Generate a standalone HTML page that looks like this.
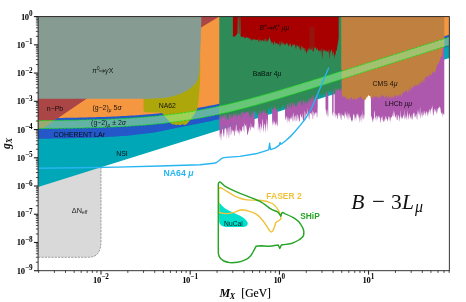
<!DOCTYPE html>
<html><head><meta charset="utf-8"><title>B-3L_mu constraints</title>
<style>
html,body{margin:0;padding:0;background:#fff;}
body{width:466px;height:302px;overflow:hidden;font-family:"Liberation Sans",sans-serif;}
svg{display:block;will-change:transform;}
text{white-space:pre;}
</style></head><body>
<svg width="466" height="302" viewBox="0 0 466 302">
<defs><clipPath id="c"><rect x="38.10" y="16.60" width="411.25" height="254.10"/></clipPath></defs>
<rect width="466" height="302" fill="#fff"/>
<g clip-path="url(#c)">
<path d="M36.1,120.0 L101.0,120.0 L101.0,240.5 C101.0,251.5 97.5,257.3 88.5,257.3 L36.1,257.3 L36.1,120.0 Z" fill="#d9d9d9" stroke="#888888" stroke-width="0.8" stroke-dasharray="2.1,1.2"/>
<polygon points="38.10,187.00 449.35,58.07 449.35,16.60 38.10,16.60" fill="#00a7b7" />
<polygon points="38.00,138.90 41.00,138.84 44.00,138.79 47.00,138.73 50.00,138.68 53.00,138.62 56.00,138.56 59.00,138.51 62.00,138.45 65.00,138.39 68.00,138.34 71.00,138.27 74.00,138.18 77.00,138.09 80.00,138.00 83.00,137.91 86.00,137.82 89.00,137.73 92.00,137.64 95.00,137.55 98.00,137.46 101.00,137.34 104.00,137.16 107.00,136.99 110.00,136.81 113.00,136.63 116.00,136.45 119.00,136.27 122.00,136.10 125.00,135.92 128.00,135.68 131.00,135.33 134.00,134.97 137.00,134.61 140.00,134.26 143.00,133.90 146.00,133.55 149.00,133.19 152.00,132.84 155.00,132.40 158.00,131.78 161.00,131.17 164.00,130.56 167.00,129.95 170.00,129.34 173.00,128.73 176.00,128.12 179.00,127.51 182.00,126.90 185.00,126.29 188.00,125.69 191.00,125.08 194.00,124.48 197.00,123.88 200.00,123.27 203.00,122.67 206.00,122.06 209.00,121.42 212.00,120.75 215.00,120.08 218.00,119.41 221.00,118.59 224.00,117.64 227.00,116.69 230.00,115.73 233.00,114.78 236.00,113.83 239.00,112.87 242.00,111.92 245.00,110.97 248.00,110.02 251.00,109.06 254.00,108.11 257.00,107.16 260.00,106.20 263.00,105.25 266.00,104.30 269.00,103.35 272.00,102.39 275.00,101.44 278.00,100.49 281.00,99.53 284.00,98.58 287.00,97.63 290.00,96.68 293.00,95.72 296.00,94.77 299.00,93.82 302.00,92.87 305.00,91.92 308.00,90.97 311.00,90.02 314.00,89.07 317.00,88.12 320.00,87.17 323.00,86.22 326.00,85.27 329.00,84.32 332.00,83.38 335.00,82.43 338.00,81.48 341.00,80.53 344.00,79.58 347.00,78.63 350.00,77.68 353.00,76.73 356.00,75.78 359.00,74.83 362.00,73.88 365.00,72.93 368.00,71.99 371.00,71.04 374.00,70.09 377.00,69.14 380.00,68.19 383.00,67.24 386.00,66.29 389.00,65.34 392.00,64.39 395.00,63.44 398.00,62.49 401.00,61.54 404.00,60.60 407.00,59.65 410.00,58.70 413.00,57.75 416.00,56.80 419.00,55.85 422.00,54.90 425.00,53.95 428.00,53.00 431.00,52.05 434.00,51.10 437.00,50.15 440.00,49.21 443.00,48.26 446.00,47.31 449.00,46.36 449.50,46.20 449.50,10.00 38.00,10.00" fill="#2458c8" />
<polygon points="219.40,20.00 219.40,127.61 219.82,138.20 220.24,132.39 220.66,137.03 221.08,141.54 221.50,133.81 221.92,133.16 222.34,124.81 222.76,129.71 223.18,132.98 223.60,135.76 224.02,137.76 224.44,131.09 224.86,127.29 225.28,129.77 225.70,125.02 226.12,128.79 226.54,131.87 226.96,139.25 227.38,126.87 227.80,133.85 228.22,139.26 228.64,128.82 229.06,124.43 229.48,138.29 229.90,127.70 230.32,122.03 230.74,135.57 231.16,134.30 231.58,131.48 232.00,128.32 232.42,131.68 232.84,130.16 233.26,131.42 233.68,130.01 234.10,136.23 234.52,135.16 234.94,129.31 235.36,132.39 235.78,128.82 236.20,121.57 236.62,129.58 237.04,133.22 237.46,129.69 237.88,130.65 238.30,133.81 238.72,130.02 239.14,136.13 239.56,127.57 239.98,133.79 240.40,129.94 240.82,129.93 241.24,132.26 241.66,130.90 242.08,129.66 242.50,126.13 242.92,126.63 243.34,125.56 243.76,130.63 244.18,132.50 244.60,122.87 245.02,124.79 245.44,126.21 245.86,125.18 246.28,130.96 246.70,122.92 247.12,135.03 247.54,134.68 247.96,133.46 248.38,129.36 248.80,133.19 249.22,126.30 249.64,127.65 250.06,128.99 250.48,131.72 250.90,122.15 251.32,126.09 251.74,127.65 252.16,127.43 252.58,127.17 253.00,126.09 253.42,128.01 253.84,128.24 254.26,123.40 254.60,131.39 254.60,20.00" fill="#ad58ad" />
<polygon points="257.90,20.00 257.90,131.57 258.32,129.05 258.74,120.37 259.16,129.43 259.58,126.29 260.00,134.58 260.42,124.03 260.84,123.50 261.26,130.96 261.68,126.45 262.10,126.31 262.52,120.52 262.94,118.84 263.36,132.89 263.78,129.55 264.20,125.74 264.62,123.17 265.04,124.78 265.46,133.80 265.88,126.43 266.30,123.83 266.72,117.95 267.14,132.66 267.56,118.08 267.98,130.90 268.00,123.44 268.00,20.00" fill="#ad58ad" />
<polygon points="272.10,20.00 272.10,126.10 272.52,120.60 272.94,126.26 273.36,119.09 273.78,124.78 274.20,120.93 274.62,122.03 275.04,127.05 275.46,122.97 275.88,124.29 276.30,124.94 276.72,120.19 277.14,125.66 277.56,126.28 277.80,120.27 277.80,20.00" fill="#ad58ad" />
<polygon points="285.00,20.00 285.00,114.78 285.42,119.71 285.84,119.75 286.26,115.64 286.68,117.61 287.10,123.74 287.52,116.15 287.94,120.31 288.36,121.85 288.78,116.22 289.20,123.67 289.62,119.06 290.04,117.59 290.46,120.01 290.88,116.67 291.30,119.87 291.72,115.11 292.14,122.38 292.56,117.76 292.98,114.70 293.40,112.32 293.82,121.72 294.24,120.59 294.66,116.91 295.08,115.53 295.50,115.73 295.92,122.45 296.34,113.38 296.76,121.20 297.18,120.76 297.60,114.16 298.02,115.24 298.44,117.38 298.86,119.88 299.28,121.53 299.70,121.95 300.12,114.43 300.54,113.65 300.96,116.25 301.38,116.90 301.80,117.88 302.22,112.83 302.64,117.66 303.06,120.65 303.48,120.52 303.90,120.79 304.32,120.49 304.74,110.44 305.16,112.13 305.58,120.24 306.00,113.65 306.42,114.02 306.84,115.24 307.26,107.40 307.68,116.59 308.10,114.10 308.52,114.25 308.94,119.65 309.36,118.67 309.78,112.17 310.20,112.97 310.62,113.97 311.04,112.61 311.46,115.68 311.88,112.57 312.30,109.99 312.72,119.48 313.14,118.45 313.56,111.48 313.98,112.19 314.40,113.88 314.82,116.09 315.24,113.54 315.66,112.34 316.08,113.07 316.50,111.87 316.92,118.08 317.34,116.28 317.70,106.51 317.70,20.00" fill="#ad58ad" />
<polygon points="325.50,20.00 325.50,107.77 325.92,111.00 326.34,116.36 326.76,111.14 327.18,108.93 327.60,114.68 328.02,117.58 328.30,114.94 328.30,20.00" fill="#ad58ad" />
<polygon points="332.10,20.00 332.10,112.18 332.52,116.55 332.94,112.22 333.36,112.20 333.60,118.41 333.60,20.00" fill="#ad58ad" />
<polygon points="334.60,20.00 334.60,116.23 335.02,113.06 335.44,118.61 335.86,112.41 336.28,114.95 336.70,116.49 337.12,113.65 337.54,119.79 337.96,117.85 338.38,113.07 338.80,113.02 339.22,112.45 339.64,116.75 340.06,113.33 340.48,116.54 340.90,119.52 341.32,120.24 341.74,112.89 342.16,114.66 342.58,115.48 343.00,115.19 343.42,115.56 343.84,115.99 344.26,119.22 344.68,114.57 345.10,110.38 345.52,115.43 345.94,113.32 346.36,118.03 346.78,115.61 347.20,110.94 347.62,120.40 348.04,114.07 348.46,114.20 348.88,120.09 349.30,117.52 349.72,112.53 350.14,118.40 350.56,115.82 350.98,120.34 351.40,119.91 351.82,122.17 352.24,119.39 352.66,122.13 353.08,114.83 353.50,115.40 353.92,112.95 354.34,121.68 354.76,113.71 355.18,117.84 355.60,117.38 356.02,121.15 356.44,116.07 356.86,113.70 357.28,116.07 357.70,113.01 358.12,115.25 358.54,119.02 358.96,113.12 359.38,123.83 359.80,117.97 360.22,115.34 360.64,121.82 361.06,113.82 361.48,115.63 361.90,123.35 362.32,109.87 362.74,120.66 363.16,113.45 363.58,118.17 364.00,119.78 364.42,114.63 364.50,115.85 364.50,20.00" fill="#ad58ad" />
<polygon points="371.00,20.00 371.00,119.15 371.42,115.95 371.84,116.81 372.26,120.05 372.68,122.70 373.10,118.19 373.52,118.57 373.94,122.10 374.36,112.08 374.78,110.45 375.20,118.28 375.62,116.98 376.04,121.69 376.46,116.29 376.88,115.39 377.30,116.30 377.72,120.45 378.14,115.05 378.56,118.10 378.98,116.10 379.40,119.05 379.82,115.32 380.24,121.53 380.66,123.26 381.08,116.82 381.50,117.14 381.92,119.56 382.34,121.08 382.76,114.77 383.18,120.36 383.60,121.90 384.02,121.64 384.44,117.90 384.86,121.96 385.28,118.96 385.70,115.64 386.12,116.44 386.54,119.37 386.96,118.94 387.38,121.58 387.80,120.60 388.22,115.75 388.64,117.34 389.06,121.22 389.48,117.88 389.90,115.79 390.32,122.93 390.74,117.73 391.16,116.44 391.58,118.30 392.00,116.33 392.42,116.06 392.84,113.98 393.26,109.99 393.68,117.22 394.10,115.13 394.52,111.16 394.94,117.10 395.36,117.40 395.78,115.68 396.20,120.71 396.62,115.35 397.04,114.25 397.46,119.90 397.88,120.32 398.30,115.57 398.72,115.05 399.14,118.60 399.56,122.13 399.98,115.62 400.40,118.11 400.82,109.55 401.24,120.02 401.66,117.26 402.08,116.41 402.50,118.97 402.92,117.69 403.34,114.81 403.76,116.52 404.18,109.15 404.60,120.15 405.02,117.23 405.44,118.60 405.86,114.09 406.28,116.17 406.70,120.82 407.12,114.26 407.54,109.67 407.96,120.14 408.38,118.44 408.80,115.51 409.22,113.37 409.64,114.76 410.06,118.75 410.48,115.70 410.90,119.25 411.32,113.95 411.74,119.33 412.16,119.64 412.58,118.20 413.00,113.66 413.42,113.73 413.84,112.63 414.26,112.50 414.68,117.98 415.10,115.60 415.52,118.03 415.94,113.73 416.36,114.15 416.78,119.11 417.20,120.08 417.62,112.21 418.04,109.26 418.46,115.55 418.88,111.53 419.30,115.94 419.72,113.05 420.14,106.45 420.56,119.09 420.98,116.79 421.40,111.31 421.82,116.05 422.24,111.00 422.66,117.84 423.08,115.05 423.50,115.27 423.92,110.73 424.34,110.97 424.76,114.12 425.18,112.85 425.60,116.55 426.02,111.89 426.44,112.66 426.86,110.59 427.28,113.27 427.70,117.26 428.12,111.22 428.54,115.46 428.96,110.33 429.38,108.77 429.80,112.68 430.22,109.78 430.64,114.80 431.06,106.70 431.48,109.57 431.90,109.30 432.32,104.88 432.74,111.91 433.16,115.64 433.58,114.69 434.00,110.12 434.42,108.27 434.84,112.01 435.26,111.72 435.68,109.11 436.10,111.73 436.52,114.97 436.94,108.18 437.36,109.22 437.78,113.51 438.20,108.10 438.62,107.88 439.04,108.08 439.46,106.06 439.88,107.71 440.30,107.46 440.72,111.22 441.14,112.81 441.56,114.01 441.98,112.65 442.40,117.78 442.82,111.97 443.24,114.17 443.66,113.84 444.08,115.41 444.30,112.96 444.30,20.00" fill="#ad58ad" />
<polygon points="38.10,118.16 41.10,118.14 44.10,118.11 47.10,118.08 50.10,118.05 53.10,118.01 56.10,117.98 59.10,117.94 62.10,117.90 65.10,117.85 68.10,117.80 71.10,117.75 74.10,117.70 77.10,117.64 80.10,117.57 83.10,117.51 86.10,117.43 89.10,117.36 92.10,117.27 95.10,117.19 98.10,117.09 101.10,116.99 104.10,116.89 107.10,116.77 110.10,116.65 113.10,116.53 116.10,116.39 119.10,116.25 122.10,116.09 125.10,115.93 128.10,115.76 131.10,115.58 134.10,115.39 137.10,115.18 140.10,114.97 143.10,114.74 146.10,114.50 149.10,114.25 152.10,113.98 155.10,113.70 158.10,113.41 161.10,113.10 164.10,112.77 167.10,112.44 170.10,112.08 173.10,111.71 176.10,111.32 179.10,110.91 182.10,110.49 185.10,110.05 188.10,109.59 191.10,109.11 194.10,108.61 197.10,108.10 200.10,107.57 203.10,107.02 206.10,106.45 209.10,105.86 212.10,105.26 215.10,104.64 218.10,104.00 221.10,103.34 224.10,102.67 227.10,101.98 230.10,101.27 233.10,100.55 236.10,99.81 239.10,99.06 242.10,98.30 245.10,97.52 248.10,96.73 251.10,95.93 254.10,95.12 257.10,94.29 260.10,93.46 263.10,92.62 266.10,91.76 269.10,90.90 272.10,90.03 275.10,89.16 278.10,88.28 281.10,87.39 284.10,86.49 287.10,85.59 290.10,84.69 293.10,83.78 296.10,82.87 299.10,81.95 302.10,81.03 305.10,80.11 308.10,79.18 311.10,78.25 314.10,77.32 317.10,76.39 320.10,75.46 323.10,74.52 326.10,73.58 329.10,72.64 332.10,71.70 335.10,70.76 338.10,69.82 341.10,68.88 344.10,67.93 347.10,66.99 350.10,66.04 353.10,65.10 356.10,64.15 359.10,63.20 362.10,62.26 365.10,61.31 368.10,60.36 371.10,59.41 374.10,58.47 377.10,57.52 380.10,56.57 383.10,55.62 386.10,54.67 389.10,53.72 392.10,52.77 395.10,51.83 398.10,50.88 401.10,49.93 404.10,48.98 407.10,48.03 410.10,47.08 413.10,46.13 416.10,45.18 419.10,44.23 422.10,43.28 425.10,42.33 428.10,41.38 431.10,40.43 434.10,39.48 437.10,38.53 440.10,37.58 443.10,36.63 446.10,35.69 449.10,34.74 449.35,34.66 449.35,10.00 38.10,10.00" fill="#f59640" />
<polygon points="38.00,128.60 42.60,128.60 56.60,119.00 85.80,99.20 201.40,27.30 219.30,16.60 225.00,13.00 38.00,13.00" fill="#aa4646" />
<polygon points="143.50,90.00 143.50,110.30 144.30,111.80 146.00,112.30 160.50,112.40 163.00,114.00 171.00,123.40 172.50,124.60 174.50,124.20 176.00,125.20 178.00,124.40 180.00,125.30 182.50,124.30 185.00,124.90 187.40,123.60 191.80,118.00 194.80,113.50 197.20,109.50 198.60,100.00 199.90,84.00 200.30,70.00 200.10,55.00 200.10,40.00 200.50,14.00 180.00,14.00 180.00,90.00" fill="#aea70c" />
<polygon points="38.00,10.00 38.00,98.80 150.00,98.80 163.20,98.10 170.00,97.00 174.80,95.80 181.30,93.60 186.80,90.80 191.50,87.50 195.40,83.60 197.70,79.50 198.90,75.00 199.30,70.00 199.60,63.00 200.00,55.00 200.70,40.00 201.40,16.60 201.40,10.00" fill="#869c92" />
<polygon points="219.30,10.00 219.30,116.55 219.72,119.42 220.14,114.50 220.56,116.70 220.98,120.10 221.40,115.01 221.82,118.97 222.24,117.12 222.66,113.41 223.08,117.08 223.50,117.59 223.92,114.71 224.34,114.56 224.76,114.39 225.18,120.10 225.60,116.67 226.02,113.78 226.44,114.64 226.86,119.53 227.28,118.99 227.70,119.46 228.12,119.61 228.54,119.28 228.96,116.82 229.38,114.00 229.80,113.12 230.22,119.12 230.64,112.52 231.06,114.31 231.48,115.95 231.90,118.82 232.32,114.73 232.74,118.49 233.16,116.11 233.58,114.33 234.00,113.27 234.42,115.17 234.84,114.37 235.26,116.36 235.68,112.23 236.10,118.64 236.52,113.05 236.94,113.44 237.36,119.24 237.78,114.36 238.20,112.67 238.62,115.83 239.04,112.90 239.46,116.22 239.88,115.25 240.30,111.77 240.72,116.41 241.14,118.91 241.56,112.40 241.98,112.37 242.40,112.30 242.82,111.13 243.24,115.84 243.66,111.03 244.08,113.36 244.50,114.22 244.92,111.08 245.34,114.09 245.76,112.55 246.18,111.21 246.60,113.18 247.02,111.49 247.44,111.71 247.86,111.47 248.28,114.83 248.70,111.31 249.12,110.78 249.54,114.62 249.96,117.57 250.38,117.48 250.80,115.15 251.22,117.38 251.64,110.08 252.06,114.16 252.48,110.64 252.90,117.17 253.32,110.24 253.74,113.99 254.16,111.62 254.58,110.99 255.00,111.64 255.42,111.53 255.84,113.55 256.26,113.07 256.68,111.66 257.10,114.66 257.52,115.17 257.94,116.44 258.36,112.30 258.78,114.14 259.20,109.26 259.62,115.75 260.04,113.02 260.46,109.72 260.88,112.73 261.30,115.81 261.72,113.23 262.14,109.58 262.56,113.83 262.98,109.72 263.40,110.76 263.82,113.12 264.24,110.29 264.66,113.87 265.08,113.06 265.50,108.85 265.92,113.29 266.34,113.66 266.76,114.64 267.18,112.98 267.60,112.93 268.02,113.08 268.44,108.32 268.86,108.72 269.28,109.26 269.70,108.07 270.12,111.21 270.54,112.65 270.96,113.35 271.38,106.74 271.80,106.69 272.22,108.70 272.64,109.73 273.06,110.36 273.48,107.06 273.90,109.84 274.32,109.64 274.74,105.27 275.16,107.47 275.58,108.55 276.00,106.69 276.42,111.42 276.84,110.46 277.26,109.08 277.68,110.47 278.10,108.62 278.52,105.31 278.94,111.67 279.36,108.20 279.78,110.18 280.20,111.00 280.62,110.23 281.04,106.90 281.46,107.82 281.88,109.25 282.30,107.01 282.72,103.91 283.14,109.13 283.56,108.28 283.98,103.81 284.40,107.66 284.82,108.68 285.24,108.54 285.66,106.87 286.08,109.38 286.50,108.91 286.92,106.93 287.34,104.15 287.76,104.50 288.18,102.13 288.60,108.24 289.02,101.88 289.44,108.37 289.86,108.35 290.28,103.83 290.70,101.77 291.12,103.52 291.54,108.03 291.96,107.51 292.38,102.54 292.80,103.72 293.22,101.98 293.64,106.76 294.06,101.46 294.48,104.39 294.90,105.03 295.32,106.09 295.74,107.02 296.16,102.59 296.58,106.95 297.00,107.11 297.42,103.71 297.84,100.33 298.26,101.40 298.68,103.59 299.10,101.86 299.52,101.21 299.94,102.52 300.36,99.77 300.78,100.53 301.20,103.75 301.62,105.52 302.04,105.75 302.46,103.84 302.88,100.52 303.30,99.32 303.72,99.94 304.14,104.94 304.56,102.65 304.98,100.70 305.40,101.10 305.82,101.85 306.24,101.42 306.66,104.35 307.08,103.43 307.50,98.30 307.92,104.13 308.34,97.93 308.76,103.03 309.18,100.84 309.60,98.74 310.02,97.38 310.44,102.94 310.86,98.36 311.28,97.57 311.70,98.09 312.12,100.41 312.54,96.72 312.96,95.37 313.38,95.04 313.80,100.90 314.22,98.35 314.64,99.55 315.06,100.81 315.48,94.54 315.90,97.27 316.32,101.02 316.74,94.29 317.16,97.10 317.58,93.93 318.00,94.88 318.42,100.40 318.84,94.33 319.26,94.18 319.68,93.35 320.10,93.61 320.52,98.15 320.94,97.91 321.36,92.48 321.78,94.90 322.20,97.48 322.62,96.43 323.04,94.20 323.46,93.16 323.88,94.49 324.30,96.99 324.72,92.66 325.14,96.56 325.56,91.85 325.98,96.74 326.40,93.11 326.82,91.50 327.24,91.96 327.66,95.90 328.08,93.15 328.50,89.98 328.92,92.80 329.34,91.82 329.76,90.93 330.18,89.56 330.60,94.27 331.02,93.36 331.44,89.89 331.86,96.15 332.28,90.51 332.70,96.01 333.12,93.44 333.54,88.52 333.96,91.75 334.38,94.29 334.80,94.86 335.22,92.51 335.64,87.88 336.06,88.60 336.48,89.49 336.90,90.47 337.32,87.93 337.74,91.97 338.16,88.05 338.58,89.20 339.00,90.05 339.42,89.32 339.84,92.18 340.26,90.08 340.68,88.06 341.10,91.55 341.52,87.85 341.60,90.94 341.60,10.00" fill="#2e8b57" />
<polygon points="232.90,10.00 232.90,36.60 235.20,36.40 236.60,34.60 237.50,33.40 237.80,17.50 238.50,17.50 238.80,33.50 239.40,33.80 239.65,15.00 240.30,15.00 240.60,36.60 240.60,36.60 241.02,36.49 241.44,36.68 241.86,36.96 242.28,36.94 242.70,37.01 243.12,35.99 243.54,36.68 243.96,37.63 244.38,37.31 244.80,38.63 245.22,37.56 245.64,38.35 246.06,37.21 246.48,37.09 246.90,37.17 247.32,37.41 247.74,37.73 248.16,38.02 248.58,37.48 249.00,38.59 249.42,38.97 249.84,37.84 250.26,40.32 250.68,38.30 251.10,39.27 251.52,40.60 251.94,41.08 252.36,39.13 252.78,39.36 253.20,39.49 253.62,39.05 254.04,39.97 254.46,39.97 254.88,38.13 255.30,40.56 255.72,39.34 256.14,40.29 256.56,40.02 256.98,40.04 257.40,40.07 257.82,38.99 258.24,38.80 258.66,42.05 259.08,42.19 259.50,40.13 259.92,40.26 260.34,39.14 260.76,40.02 261.18,42.24 261.60,39.68 262.02,40.99 262.44,39.88 262.86,40.14 263.28,41.46 263.70,40.73 264.12,38.27 264.54,42.41 264.96,38.74 265.38,38.39 265.80,42.20 266.22,38.57 266.64,42.53 267.06,40.07 267.48,40.94 267.90,41.97 268.32,38.73 268.74,40.02 269.16,39.02 269.58,36.51 270.00,38.31 270.42,41.44 270.84,39.16 271.26,44.48 271.68,41.31 272.10,42.28 272.52,42.52 272.94,42.71 273.36,45.75 273.78,43.79 274.20,42.12 274.62,40.75 275.04,43.13 275.46,42.23 275.88,45.09 276.30,42.75 276.72,43.79 277.14,42.80 277.56,43.65 277.98,44.37 278.40,44.67 278.82,43.63 279.24,47.51 279.66,41.98 280.08,40.79 280.50,47.27 280.92,44.58 281.34,44.30 281.76,40.62 282.18,45.44 282.60,42.33 283.02,41.44 283.44,44.98 283.86,42.83 284.28,43.91 284.70,44.78 285.12,44.53 285.54,44.94 285.96,44.25 286.38,42.45 286.80,43.52 287.22,42.45 287.64,44.41 288.06,45.26 288.48,46.52 288.90,45.53 289.32,42.86 289.74,45.98 290.16,44.80 290.58,43.05 291.00,45.65 291.42,47.61 291.84,46.32 292.26,45.66 292.68,43.94 293.10,44.09 293.52,45.69 293.94,44.80 294.36,44.85 294.78,43.86 295.20,45.77 295.62,47.55 296.04,49.76 296.46,46.30 296.88,44.26 297.30,45.79 297.72,45.41 298.14,46.15 298.56,47.75 298.98,45.63 299.40,50.03 299.82,44.07 300.24,50.26 300.66,50.55 301.08,46.40 301.50,44.88 301.92,50.67 302.34,47.96 302.76,46.30 303.18,47.35 303.60,48.96 304.02,47.89 304.44,48.02 304.86,52.21 305.28,50.77 305.70,47.98 306.12,52.22 306.54,54.08 306.96,51.00 307.38,51.68 307.80,49.31 308.22,47.61 308.64,50.84 309.06,49.87 309.48,46.99 309.90,50.23 310.32,49.14 310.74,49.19 311.16,49.27 311.58,49.91 312.00,46.10 312.42,48.72 312.84,51.96 313.26,51.18 313.68,51.47 314.10,47.62 314.52,49.21 314.94,46.63 315.36,48.66 315.78,46.35 316.20,49.62 316.62,49.76 317.04,49.82 317.46,47.54 317.88,49.63 318.30,50.70 318.72,51.03 319.14,51.07 319.56,49.34 319.98,52.83 320.40,50.93 320.82,49.72 321.24,48.56 321.66,51.06 322.08,59.49 322.50,55.22 322.92,47.54 323.34,50.57 323.76,51.28 324.18,51.14 324.60,49.47 325.02,50.19 325.44,50.13 325.86,52.24 326.28,49.70 326.70,51.87 327.12,50.96 327.54,52.06 327.96,51.58 328.38,53.54 328.80,48.72 329.22,50.43 329.64,59.80 330.06,55.61 330.48,50.71 330.90,52.05 331.32,49.65 331.74,49.65 332.16,51.43 332.58,56.21 333.00,51.78 333.42,51.62 333.84,54.91 334.26,58.91 334.68,54.59 335.10,54.63 335.52,54.83 335.94,50.35 336.36,50.91 336.78,50.33 337.20,47.03 337.62,44.75 338.04,42.25 338.46,39.49 338.70,38.00 338.70,10.00" fill="#a80000" />
<line x1="310.2" y1="27" x2="310.2" y2="49" stroke="#2e8b57" stroke-width="0.45" opacity="0.55"/>
<line x1="312.0" y1="27" x2="312.0" y2="49" stroke="#2e8b57" stroke-width="0.45" opacity="0.55"/>
<line x1="313.8" y1="27" x2="313.8" y2="49" stroke="#2e8b57" stroke-width="0.45" opacity="0.55"/>
<polygon points="341.80,10.00 341.80,94.76 342.30,96.21 342.80,96.88 343.30,97.46 343.80,95.45 344.30,97.99 344.80,96.15 345.30,96.24 345.80,97.67 346.30,100.28 346.80,98.07 347.30,99.05 347.80,98.44 348.30,99.00 348.80,97.90 349.30,100.30 349.80,100.57 350.30,97.87 350.80,99.11 351.30,96.23 351.80,98.57 352.30,99.27 352.80,99.54 353.30,99.66 353.80,98.30 354.30,98.62 354.80,97.68 355.30,99.70 355.80,99.55 356.30,99.77 356.80,98.59 357.30,97.61 357.80,99.81 358.30,97.75 358.80,97.33 359.30,97.86 359.80,97.23 360.30,96.66 360.80,96.19 361.30,97.26 361.80,98.33 362.30,100.82 362.80,98.56 363.30,99.21 363.80,99.37 364.30,101.03 364.80,99.32 365.30,100.19 365.80,99.00 366.30,96.45 366.80,98.95 367.30,97.04 367.80,96.13 368.30,94.76 368.80,95.67 369.30,96.32 369.80,95.90 370.30,95.74 370.80,99.17 371.30,96.45 371.80,98.78 372.30,96.78 372.80,98.13 373.30,99.16 373.80,94.82 374.30,96.70 374.80,97.05 375.30,96.06 375.80,97.18 376.30,95.97 376.80,97.07 377.30,97.56 377.80,96.97 378.30,98.28 378.80,96.54 379.30,98.98 379.80,96.20 380.30,98.77 380.80,95.12 381.30,94.60 381.80,95.69 382.30,97.17 382.80,95.28 383.30,96.19 383.80,95.72 384.30,97.75 384.80,96.71 385.30,98.48 385.80,95.61 386.30,95.42 386.80,95.05 387.30,98.70 387.80,96.63 388.30,96.07 388.80,96.57 389.30,98.82 389.80,97.26 390.30,98.04 390.80,96.58 391.30,98.63 391.80,96.06 392.30,97.84 392.80,96.17 393.30,98.36 393.80,97.00 394.30,94.88 394.80,94.93 395.30,96.49 395.80,95.23 396.30,96.06 396.80,97.99 397.30,95.17 397.80,95.54 398.30,95.10 398.80,96.42 399.30,95.52 399.80,94.28 400.30,93.27 400.80,95.65 401.30,96.63 401.80,95.60 402.30,91.72 402.80,92.96 403.30,94.07 403.80,92.18 404.30,91.90 404.80,91.42 405.30,90.59 405.80,90.65 406.30,90.39 406.80,90.18 407.30,93.13 407.80,91.24 408.30,92.39 408.80,87.60 409.30,90.99 409.80,91.78 410.30,86.79 410.80,87.00 411.30,90.20 411.80,88.62 412.30,87.64 412.80,87.60 413.30,87.05 413.80,86.11 414.30,86.06 414.80,85.04 415.30,85.77 415.80,84.69 416.30,84.93 416.80,84.86 417.30,86.78 417.80,85.10 418.30,85.33 418.80,83.37 419.30,84.98 419.80,83.40 420.30,82.64 420.80,81.11 421.30,83.13 421.80,83.21 422.30,81.42 422.80,79.31 423.30,80.65 423.80,82.68 424.30,82.21 424.80,77.69 425.30,78.41 425.80,77.23 426.30,75.93 426.80,76.22 427.30,75.93 427.80,76.89 428.30,76.48 428.80,77.50 429.30,74.71 429.80,74.23 430.30,74.43 430.80,74.91 431.30,76.09 431.80,74.16 432.30,70.81 432.80,72.78 433.30,71.00 433.80,73.10 434.30,72.78 434.80,72.69 435.30,71.61 435.80,70.54 436.30,67.18 436.80,66.13 437.30,64.98 437.80,63.87 438.30,64.05 438.80,62.37 439.30,61.68 439.80,60.21 440.30,58.93 440.80,56.17 441.30,57.27 441.80,55.51 442.30,53.96 442.80,48.58 443.30,48.01 443.80,47.54 444.30,45.55 444.30,10.00" fill="#bf8040" />
<polygon points="38.10,120.66 41.10,120.64 44.10,120.61 47.10,120.58 50.10,120.55 53.10,120.51 56.10,120.48 59.10,120.44 62.10,120.40 65.10,120.35 68.10,120.30 71.10,120.25 74.10,120.20 77.10,120.14 80.10,120.07 83.10,120.01 86.10,119.93 89.10,119.86 92.10,119.77 95.10,119.69 98.10,119.59 101.10,119.49 104.10,119.39 107.10,119.27 110.10,119.15 113.10,119.03 116.10,118.89 119.10,118.75 122.10,118.59 125.10,118.43 128.10,118.26 131.10,118.08 134.10,117.89 137.10,117.68 140.10,117.47 143.10,117.24 146.10,117.00 149.10,116.75 152.10,116.48 155.10,116.20 158.10,115.91 161.10,115.60 164.10,115.27 167.10,114.94 170.10,114.58 173.10,114.21 176.10,113.82 179.10,113.41 182.10,112.99 185.10,112.55 188.10,112.09 191.10,111.61 194.10,111.11 197.10,110.60 200.10,110.07 203.10,109.52 206.10,108.95 209.10,108.36 212.10,107.76 215.10,107.14 218.10,106.50 221.10,105.84 224.10,105.17 227.10,104.48 230.10,103.77 233.10,103.05 236.10,102.31 239.10,101.56 242.10,100.80 245.10,100.02 248.10,99.23 251.10,98.43 254.10,97.62 257.10,96.79 260.10,95.96 263.10,95.12 266.10,94.26 269.10,93.40 272.10,92.53 275.10,91.66 278.10,90.78 281.10,89.89 284.10,88.99 287.10,88.09 290.10,87.19 293.10,86.28 296.10,85.37 299.10,84.45 302.10,83.53 305.10,82.61 308.10,81.68 311.10,80.75 314.10,79.82 317.10,78.89 320.10,77.96 323.10,77.02 326.10,76.08 329.10,75.14 332.10,74.20 335.10,73.26 338.10,72.32 341.10,71.38 344.10,70.43 347.10,69.49 350.10,68.54 353.10,67.60 356.10,66.65 359.10,65.70 362.10,64.76 365.10,63.81 368.10,62.86 371.10,61.91 374.10,60.97 377.10,60.02 380.10,59.07 383.10,58.12 386.10,57.17 389.10,56.22 392.10,55.27 395.10,54.33 398.10,53.38 401.10,52.43 404.10,51.48 407.10,50.53 410.10,49.58 413.10,48.63 416.10,47.68 419.10,46.73 422.10,45.78 425.10,44.83 428.10,43.88 431.10,42.93 434.10,41.98 437.10,41.03 440.10,40.08 443.10,39.13 446.10,38.19 449.10,37.24 449.35,37.16 449.35,45.06 449.10,45.14 446.10,46.09 443.10,47.03 440.10,47.98 437.10,48.93 434.10,49.88 431.10,50.83 428.10,51.78 425.10,52.73 422.10,53.68 419.10,54.63 416.10,55.58 413.10,56.53 410.10,57.48 407.10,58.43 404.10,59.38 401.10,60.33 398.10,61.28 395.10,62.23 392.10,63.17 389.10,64.12 386.10,65.07 383.10,66.02 380.10,66.97 377.10,67.92 374.10,68.87 371.10,69.81 368.10,70.76 365.10,71.71 362.10,72.66 359.10,73.60 356.10,74.55 353.10,75.50 350.10,76.44 347.10,77.39 344.10,78.33 341.10,79.28 338.10,80.22 335.10,81.16 332.10,82.10 329.10,83.04 326.10,83.98 323.10,84.92 320.10,85.86 317.10,86.79 314.10,87.72 311.10,88.65 308.10,89.58 305.10,90.51 302.10,91.43 299.10,92.35 296.10,93.27 293.10,94.18 290.10,95.09 287.10,95.99 284.10,96.89 281.10,97.79 278.10,98.68 275.10,99.56 272.10,100.43 269.10,101.30 266.10,102.16 263.10,103.02 260.10,103.86 257.10,104.69 254.10,105.52 251.10,106.33 248.10,107.13 245.10,107.92 242.10,108.70 239.10,109.46 236.10,110.21 233.10,110.95 230.10,111.67 227.10,112.38 224.10,113.07 221.10,113.74 218.10,114.40 215.10,115.04 212.10,115.66 209.10,116.26 206.10,116.85 203.10,117.42 200.10,117.97 197.10,118.50 194.10,119.01 191.10,119.51 188.10,119.99 185.10,120.45 182.10,120.89 179.10,121.31 176.10,121.72 173.10,122.11 170.10,122.48 167.10,122.84 164.10,123.17 161.10,123.50 158.10,123.81 155.10,124.10 152.10,124.38 149.10,124.65 146.10,124.90 143.10,125.14 140.10,125.37 137.10,125.58 134.10,125.79 131.10,125.98 128.10,126.16 125.10,126.33 122.10,126.49 119.10,126.65 116.10,126.79 113.10,126.93 110.10,127.05 107.10,127.17 104.10,127.29 101.10,127.39 98.10,127.49 95.10,127.59 92.10,127.67 89.10,127.76 86.10,127.83 83.10,127.91 80.10,127.97 77.10,128.04 74.10,128.10 71.10,128.15 68.10,128.20 65.10,128.25 62.10,128.30 59.10,128.34 56.10,128.38 53.10,128.41 50.10,128.45 47.10,128.48 44.10,128.51 41.10,128.54 38.10,128.56" fill="#90ee90" fill-opacity="0.6"/>
<polyline points="38.10,120.66 41.10,120.64 44.10,120.61 47.10,120.58 50.10,120.55 53.10,120.51 56.10,120.48 59.10,120.44 62.10,120.40 65.10,120.35 68.10,120.30 71.10,120.25 74.10,120.20 77.10,120.14 80.10,120.07 83.10,120.01 86.10,119.93 89.10,119.86 92.10,119.77 95.10,119.69 98.10,119.59 101.10,119.49 104.10,119.39 107.10,119.27 110.10,119.15 113.10,119.03 116.10,118.89 119.10,118.75 122.10,118.59 125.10,118.43 128.10,118.26 131.10,118.08 134.10,117.89 137.10,117.68 140.10,117.47 143.10,117.24 146.10,117.00 149.10,116.75 152.10,116.48 155.10,116.20 158.10,115.91 161.10,115.60 164.10,115.27 167.10,114.94 170.10,114.58 173.10,114.21 176.10,113.82 179.10,113.41 182.10,112.99 185.10,112.55 188.10,112.09 191.10,111.61 194.10,111.11 197.10,110.60 200.10,110.07 203.10,109.52 206.10,108.95 209.10,108.36 212.10,107.76 215.10,107.14 218.10,106.50 221.10,105.84 224.10,105.17 227.10,104.48 230.10,103.77 233.10,103.05 236.10,102.31 239.10,101.56 242.10,100.80 245.10,100.02 248.10,99.23 251.10,98.43 254.10,97.62 257.10,96.79 260.10,95.96 263.10,95.12 266.10,94.26 269.10,93.40 272.10,92.53 275.10,91.66 278.10,90.78 281.10,89.89 284.10,88.99 287.10,88.09 290.10,87.19 293.10,86.28 296.10,85.37 299.10,84.45 302.10,83.53 305.10,82.61 308.10,81.68 311.10,80.75 314.10,79.82 317.10,78.89 320.10,77.96 323.10,77.02 326.10,76.08 329.10,75.14 332.10,74.20 335.10,73.26 338.10,72.32 341.10,71.38 344.10,70.43 347.10,69.49 350.10,68.54 353.10,67.60 356.10,66.65 359.10,65.70 362.10,64.76 365.10,63.81 368.10,62.86 371.10,61.91 374.10,60.97 377.10,60.02 380.10,59.07 383.10,58.12 386.10,57.17 389.10,56.22 392.10,55.27 395.10,54.33 398.10,53.38 401.10,52.43 404.10,51.48 407.10,50.53 410.10,49.58 413.10,48.63 416.10,47.68 419.10,46.73 422.10,45.78 425.10,44.83 428.10,43.88 431.10,42.93 434.10,41.98 437.10,41.03 440.10,40.08 443.10,39.13 446.10,38.19 449.10,37.24 449.35,37.16" fill="none" stroke="#10df10" stroke-width="0.85" stroke-linejoin="round"  stroke-dasharray="2.5,1.15"/>
<polyline points="38.10,128.56 41.10,128.54 44.10,128.51 47.10,128.48 50.10,128.45 53.10,128.41 56.10,128.38 59.10,128.34 62.10,128.30 65.10,128.25 68.10,128.20 71.10,128.15 74.10,128.10 77.10,128.04 80.10,127.97 83.10,127.91 86.10,127.83 89.10,127.76 92.10,127.67 95.10,127.59 98.10,127.49 101.10,127.39 104.10,127.29 107.10,127.17 110.10,127.05 113.10,126.93 116.10,126.79 119.10,126.65 122.10,126.49 125.10,126.33 128.10,126.16 131.10,125.98 134.10,125.79 137.10,125.58 140.10,125.37 143.10,125.14 146.10,124.90 149.10,124.65 152.10,124.38 155.10,124.10 158.10,123.81 161.10,123.50 164.10,123.17 167.10,122.84 170.10,122.48 173.10,122.11 176.10,121.72 179.10,121.31 182.10,120.89 185.10,120.45 188.10,119.99 191.10,119.51 194.10,119.01 197.10,118.50 200.10,117.97 203.10,117.42 206.10,116.85 209.10,116.26 212.10,115.66 215.10,115.04 218.10,114.40 221.10,113.74 224.10,113.07 227.10,112.38 230.10,111.67 233.10,110.95 236.10,110.21 239.10,109.46 242.10,108.70 245.10,107.92 248.10,107.13 251.10,106.33 254.10,105.52 257.10,104.69 260.10,103.86 263.10,103.02 266.10,102.16 269.10,101.30 272.10,100.43 275.10,99.56 278.10,98.68 281.10,97.79 284.10,96.89 287.10,95.99 290.10,95.09 293.10,94.18 296.10,93.27 299.10,92.35 302.10,91.43 305.10,90.51 308.10,89.58 311.10,88.65 314.10,87.72 317.10,86.79 320.10,85.86 323.10,84.92 326.10,83.98 329.10,83.04 332.10,82.10 335.10,81.16 338.10,80.22 341.10,79.28 344.10,78.33 347.10,77.39 350.10,76.44 353.10,75.50 356.10,74.55 359.10,73.60 362.10,72.66 365.10,71.71 368.10,70.76 371.10,69.81 374.10,68.87 377.10,67.92 380.10,66.97 383.10,66.02 386.10,65.07 389.10,64.12 392.10,63.17 395.10,62.23 398.10,61.28 401.10,60.33 404.10,59.38 407.10,58.43 410.10,57.48 413.10,56.53 416.10,55.58 419.10,54.63 422.10,53.68 425.10,52.73 428.10,51.78 431.10,50.83 434.10,49.88 437.10,48.93 440.10,47.98 443.10,47.03 446.10,46.09 449.10,45.14 449.35,45.06" fill="none" stroke="#10df10" stroke-width="0.85" stroke-linejoin="round"  stroke-dasharray="2.5,1.15"/>
<path d="M218.7,202.0 C221,204.5 223,207 225.5,208.8 C230,211.5 234,213 238,214.8 C242,216.8 246,219 247.6,222.5 C248.3,225 246.5,226.8 243.5,226.9 L226,226.9 C222.5,226.7 220,225.3 219.2,222.5 Z" fill="#00e0cc"/>
<polyline points="38.00,168.20 80.00,167.70 117.00,167.10 160.00,166.00 200.00,164.80 213.90,163.30 216.50,162.50 218.90,160.80 221.00,158.90 222.90,157.90 226.00,157.40 239.80,156.40 255.70,153.80 265.60,150.80 268.60,149.90 269.20,147.00 269.60,143.30 270.10,147.50 270.60,149.60 275.50,147.90 279.30,145.10 279.80,143.80 280.10,142.40 280.50,144.00 281.00,144.30 285.00,141.20 290.00,136.90 295.00,131.50 300.00,125.60 304.80,119.50 308.00,114.50 310.60,110.00 314.00,102.50 317.20,95.00 321.00,86.00 325.00,76.50 328.50,68.20" fill="none" stroke="#27b5f2" stroke-width="1.4" stroke-linejoin="round" stroke-linecap="round" />
<path d="M218.8,187.2 C220.5,187.6 222,188.3 224,189.5 C228,192 231,194.2 234.8,196.1 C239,198 243,199.5 247.2,199.9 C251,200.2 255,200.1 259.6,200.2 C264,200.4 268,201.2 272.3,203.5 C275,205.2 277,207.5 278.6,210.5 C280,213 281,215.5 281,218.2 C280.8,220 279.8,220.6 278.5,220.9 C277,221.3 276,221.6 275.6,223 C275,225.5 274.2,228 272.9,230.6 C272,232.2 270.8,232.2 270.1,231.4 C268.5,229.5 267.5,227.5 266.4,225.6 C264.5,222.5 262.5,220 259.9,217.2 C257.5,214.8 255,213.2 252.2,212.2 C249,211.2 245.5,209.8 242.3,209.7 C239,209.8 237,211.3 234.8,212.2 C231,213.5 227.5,213.8 224.9,213.5 C222,213 220,212.8 218.8,212.3 Z" fill="none" stroke="#f0c23a" stroke-width="1.4" stroke-linejoin="round"/>
<path d="M218.3,250 L218.3,184.5 C218.4,182.6 219.3,181.9 220.3,182.1 C221.5,182.6 223,184.5 224.9,186.2 C228,188.2 231,189.6 234.8,191.1 C239,193 243,194.6 247.2,196.1 C251,197.6 255.5,199.5 259.6,201.2 C263,203 266.5,205.8 269.9,208.3 C272.5,210 275,210.8 277.3,211.7 C279,212.8 280,214.5 280.8,216.2 C281.3,215 281.5,212.6 282.4,212.4 C283.3,212.4 284,213.2 284.7,213.6 C288,215 291.5,216.5 294.7,218.4 C297.5,220.2 299.5,222.3 300.9,224.6 C302.5,227 303.6,229 303.8,231 C304,233 303.8,234.5 303.4,235.8 C302.5,237.5 301.2,238.6 299.6,239.5 C297.5,240.8 295,242.2 292.2,243.2 C289,244 285.5,244.4 282.6,244.8 L281.2,245.2 L279.8,248.4 L278.2,245 C276,245 274,245.8 269.5,246.3 C267,246.4 264,245.9 261.6,245.8 C259.5,245.8 257.5,245.8 256,246.3 C255,248 254.5,249.5 253.7,250.7 C252.8,252.5 251.8,254.2 250.7,255.7 C249,257.6 247.5,258.8 245.7,259.6 C243,260.8 240.5,261.8 237.8,262.2 C235,262.6 232.5,262.8 229.8,262.6 C227.5,262.2 225.5,261.8 223.9,261 C222,260 220.6,259 219.9,257.7 C218.8,256 218.4,254.5 218.3,252.7 Z" fill="none" stroke="#27a527" stroke-width="1.45" stroke-linejoin="round"/>
</g>
<rect x="38.10" y="16.60" width="411.25" height="254.10" fill="none" stroke="#2a2a2a" stroke-width="0.95"/>
<line x1="33.90" y1="270.72" x2="38.10" y2="270.72" stroke="#1a1a1a" stroke-width="1.1"/>
<line x1="35.90" y1="262.22" x2="38.10" y2="262.22" stroke="#1a1a1a" stroke-width="0.8"/>
<line x1="35.90" y1="257.24" x2="38.10" y2="257.24" stroke="#1a1a1a" stroke-width="0.8"/>
<line x1="35.90" y1="253.72" x2="38.10" y2="253.72" stroke="#1a1a1a" stroke-width="0.8"/>
<line x1="35.90" y1="250.98" x2="38.10" y2="250.98" stroke="#1a1a1a" stroke-width="0.8"/>
<line x1="35.90" y1="248.74" x2="38.10" y2="248.74" stroke="#1a1a1a" stroke-width="0.8"/>
<line x1="35.90" y1="246.85" x2="38.10" y2="246.85" stroke="#1a1a1a" stroke-width="0.8"/>
<line x1="35.90" y1="245.22" x2="38.10" y2="245.22" stroke="#1a1a1a" stroke-width="0.8"/>
<line x1="35.90" y1="243.77" x2="38.10" y2="243.77" stroke="#1a1a1a" stroke-width="0.8"/>
<line x1="33.90" y1="242.48" x2="38.10" y2="242.48" stroke="#1a1a1a" stroke-width="1.1"/>
<line x1="35.90" y1="233.98" x2="38.10" y2="233.98" stroke="#1a1a1a" stroke-width="0.8"/>
<line x1="35.90" y1="229.01" x2="38.10" y2="229.01" stroke="#1a1a1a" stroke-width="0.8"/>
<line x1="35.90" y1="225.48" x2="38.10" y2="225.48" stroke="#1a1a1a" stroke-width="0.8"/>
<line x1="35.90" y1="222.74" x2="38.10" y2="222.74" stroke="#1a1a1a" stroke-width="0.8"/>
<line x1="35.90" y1="220.51" x2="38.10" y2="220.51" stroke="#1a1a1a" stroke-width="0.8"/>
<line x1="35.90" y1="218.62" x2="38.10" y2="218.62" stroke="#1a1a1a" stroke-width="0.8"/>
<line x1="35.90" y1="216.98" x2="38.10" y2="216.98" stroke="#1a1a1a" stroke-width="0.8"/>
<line x1="35.90" y1="215.54" x2="38.10" y2="215.54" stroke="#1a1a1a" stroke-width="0.8"/>
<line x1="33.90" y1="214.24" x2="38.10" y2="214.24" stroke="#1a1a1a" stroke-width="1.1"/>
<line x1="35.90" y1="205.75" x2="38.10" y2="205.75" stroke="#1a1a1a" stroke-width="0.8"/>
<line x1="35.90" y1="200.77" x2="38.10" y2="200.77" stroke="#1a1a1a" stroke-width="0.8"/>
<line x1="35.90" y1="197.25" x2="38.10" y2="197.25" stroke="#1a1a1a" stroke-width="0.8"/>
<line x1="35.90" y1="194.51" x2="38.10" y2="194.51" stroke="#1a1a1a" stroke-width="0.8"/>
<line x1="35.90" y1="192.27" x2="38.10" y2="192.27" stroke="#1a1a1a" stroke-width="0.8"/>
<line x1="35.90" y1="190.38" x2="38.10" y2="190.38" stroke="#1a1a1a" stroke-width="0.8"/>
<line x1="35.90" y1="188.75" x2="38.10" y2="188.75" stroke="#1a1a1a" stroke-width="0.8"/>
<line x1="35.90" y1="187.30" x2="38.10" y2="187.30" stroke="#1a1a1a" stroke-width="0.8"/>
<line x1="33.90" y1="186.01" x2="38.10" y2="186.01" stroke="#1a1a1a" stroke-width="1.1"/>
<line x1="35.90" y1="177.51" x2="38.10" y2="177.51" stroke="#1a1a1a" stroke-width="0.8"/>
<line x1="35.90" y1="172.54" x2="38.10" y2="172.54" stroke="#1a1a1a" stroke-width="0.8"/>
<line x1="35.90" y1="169.01" x2="38.10" y2="169.01" stroke="#1a1a1a" stroke-width="0.8"/>
<line x1="35.90" y1="166.27" x2="38.10" y2="166.27" stroke="#1a1a1a" stroke-width="0.8"/>
<line x1="35.90" y1="164.04" x2="38.10" y2="164.04" stroke="#1a1a1a" stroke-width="0.8"/>
<line x1="35.90" y1="162.15" x2="38.10" y2="162.15" stroke="#1a1a1a" stroke-width="0.8"/>
<line x1="35.90" y1="160.51" x2="38.10" y2="160.51" stroke="#1a1a1a" stroke-width="0.8"/>
<line x1="35.90" y1="159.07" x2="38.10" y2="159.07" stroke="#1a1a1a" stroke-width="0.8"/>
<line x1="33.90" y1="157.78" x2="38.10" y2="157.78" stroke="#1a1a1a" stroke-width="1.1"/>
<line x1="35.90" y1="149.28" x2="38.10" y2="149.28" stroke="#1a1a1a" stroke-width="0.8"/>
<line x1="35.90" y1="144.30" x2="38.10" y2="144.30" stroke="#1a1a1a" stroke-width="0.8"/>
<line x1="35.90" y1="140.78" x2="38.10" y2="140.78" stroke="#1a1a1a" stroke-width="0.8"/>
<line x1="35.90" y1="138.04" x2="38.10" y2="138.04" stroke="#1a1a1a" stroke-width="0.8"/>
<line x1="35.90" y1="135.80" x2="38.10" y2="135.80" stroke="#1a1a1a" stroke-width="0.8"/>
<line x1="35.90" y1="133.91" x2="38.10" y2="133.91" stroke="#1a1a1a" stroke-width="0.8"/>
<line x1="35.90" y1="132.28" x2="38.10" y2="132.28" stroke="#1a1a1a" stroke-width="0.8"/>
<line x1="35.90" y1="130.83" x2="38.10" y2="130.83" stroke="#1a1a1a" stroke-width="0.8"/>
<line x1="33.90" y1="129.54" x2="38.10" y2="129.54" stroke="#1a1a1a" stroke-width="1.1"/>
<line x1="35.90" y1="121.04" x2="38.10" y2="121.04" stroke="#1a1a1a" stroke-width="0.8"/>
<line x1="35.90" y1="116.07" x2="38.10" y2="116.07" stroke="#1a1a1a" stroke-width="0.8"/>
<line x1="35.90" y1="112.54" x2="38.10" y2="112.54" stroke="#1a1a1a" stroke-width="0.8"/>
<line x1="35.90" y1="109.80" x2="38.10" y2="109.80" stroke="#1a1a1a" stroke-width="0.8"/>
<line x1="35.90" y1="107.57" x2="38.10" y2="107.57" stroke="#1a1a1a" stroke-width="0.8"/>
<line x1="35.90" y1="105.68" x2="38.10" y2="105.68" stroke="#1a1a1a" stroke-width="0.8"/>
<line x1="35.90" y1="104.04" x2="38.10" y2="104.04" stroke="#1a1a1a" stroke-width="0.8"/>
<line x1="35.90" y1="102.60" x2="38.10" y2="102.60" stroke="#1a1a1a" stroke-width="0.8"/>
<line x1="33.90" y1="101.31" x2="38.10" y2="101.31" stroke="#1a1a1a" stroke-width="1.1"/>
<line x1="35.90" y1="92.81" x2="38.10" y2="92.81" stroke="#1a1a1a" stroke-width="0.8"/>
<line x1="35.90" y1="87.83" x2="38.10" y2="87.83" stroke="#1a1a1a" stroke-width="0.8"/>
<line x1="35.90" y1="84.31" x2="38.10" y2="84.31" stroke="#1a1a1a" stroke-width="0.8"/>
<line x1="35.90" y1="81.57" x2="38.10" y2="81.57" stroke="#1a1a1a" stroke-width="0.8"/>
<line x1="35.90" y1="79.33" x2="38.10" y2="79.33" stroke="#1a1a1a" stroke-width="0.8"/>
<line x1="35.90" y1="77.44" x2="38.10" y2="77.44" stroke="#1a1a1a" stroke-width="0.8"/>
<line x1="35.90" y1="75.81" x2="38.10" y2="75.81" stroke="#1a1a1a" stroke-width="0.8"/>
<line x1="35.90" y1="74.36" x2="38.10" y2="74.36" stroke="#1a1a1a" stroke-width="0.8"/>
<line x1="33.90" y1="73.07" x2="38.10" y2="73.07" stroke="#1a1a1a" stroke-width="1.1"/>
<line x1="35.90" y1="64.57" x2="38.10" y2="64.57" stroke="#1a1a1a" stroke-width="0.8"/>
<line x1="35.90" y1="59.60" x2="38.10" y2="59.60" stroke="#1a1a1a" stroke-width="0.8"/>
<line x1="35.90" y1="56.07" x2="38.10" y2="56.07" stroke="#1a1a1a" stroke-width="0.8"/>
<line x1="35.90" y1="53.33" x2="38.10" y2="53.33" stroke="#1a1a1a" stroke-width="0.8"/>
<line x1="35.90" y1="51.10" x2="38.10" y2="51.10" stroke="#1a1a1a" stroke-width="0.8"/>
<line x1="35.90" y1="49.21" x2="38.10" y2="49.21" stroke="#1a1a1a" stroke-width="0.8"/>
<line x1="35.90" y1="47.57" x2="38.10" y2="47.57" stroke="#1a1a1a" stroke-width="0.8"/>
<line x1="35.90" y1="46.13" x2="38.10" y2="46.13" stroke="#1a1a1a" stroke-width="0.8"/>
<line x1="33.90" y1="44.84" x2="38.10" y2="44.84" stroke="#1a1a1a" stroke-width="1.1"/>
<line x1="35.90" y1="36.34" x2="38.10" y2="36.34" stroke="#1a1a1a" stroke-width="0.8"/>
<line x1="35.90" y1="31.36" x2="38.10" y2="31.36" stroke="#1a1a1a" stroke-width="0.8"/>
<line x1="35.90" y1="27.84" x2="38.10" y2="27.84" stroke="#1a1a1a" stroke-width="0.8"/>
<line x1="35.90" y1="25.10" x2="38.10" y2="25.10" stroke="#1a1a1a" stroke-width="0.8"/>
<line x1="35.90" y1="22.86" x2="38.10" y2="22.86" stroke="#1a1a1a" stroke-width="0.8"/>
<line x1="35.90" y1="20.97" x2="38.10" y2="20.97" stroke="#1a1a1a" stroke-width="0.8"/>
<line x1="35.90" y1="19.34" x2="38.10" y2="19.34" stroke="#1a1a1a" stroke-width="0.8"/>
<line x1="35.90" y1="17.89" x2="38.10" y2="17.89" stroke="#1a1a1a" stroke-width="0.8"/>
<line x1="33.90" y1="16.60" x2="38.10" y2="16.60" stroke="#1a1a1a" stroke-width="1.1"/>
<line x1="38.65" y1="270.70" x2="38.65" y2="272.90" stroke="#1a1a1a" stroke-width="0.8"/>
<line x1="54.36" y1="270.70" x2="54.36" y2="272.90" stroke="#1a1a1a" stroke-width="0.8"/>
<line x1="65.50" y1="270.70" x2="65.50" y2="272.90" stroke="#1a1a1a" stroke-width="0.8"/>
<line x1="74.15" y1="270.70" x2="74.15" y2="272.90" stroke="#1a1a1a" stroke-width="0.8"/>
<line x1="81.21" y1="270.70" x2="81.21" y2="272.90" stroke="#1a1a1a" stroke-width="0.8"/>
<line x1="87.18" y1="270.70" x2="87.18" y2="272.90" stroke="#1a1a1a" stroke-width="0.8"/>
<line x1="92.36" y1="270.70" x2="92.36" y2="272.90" stroke="#1a1a1a" stroke-width="0.8"/>
<line x1="96.92" y1="270.70" x2="96.92" y2="272.90" stroke="#1a1a1a" stroke-width="0.8"/>
<line x1="101.00" y1="270.70" x2="101.00" y2="274.60" stroke="#1a1a1a" stroke-width="1.0"/>
<line x1="127.85" y1="270.70" x2="127.85" y2="272.90" stroke="#1a1a1a" stroke-width="0.8"/>
<line x1="143.56" y1="270.70" x2="143.56" y2="272.90" stroke="#1a1a1a" stroke-width="0.8"/>
<line x1="154.70" y1="270.70" x2="154.70" y2="272.90" stroke="#1a1a1a" stroke-width="0.8"/>
<line x1="163.35" y1="270.70" x2="163.35" y2="272.90" stroke="#1a1a1a" stroke-width="0.8"/>
<line x1="170.41" y1="270.70" x2="170.41" y2="272.90" stroke="#1a1a1a" stroke-width="0.8"/>
<line x1="176.38" y1="270.70" x2="176.38" y2="272.90" stroke="#1a1a1a" stroke-width="0.8"/>
<line x1="181.56" y1="270.70" x2="181.56" y2="272.90" stroke="#1a1a1a" stroke-width="0.8"/>
<line x1="186.12" y1="270.70" x2="186.12" y2="272.90" stroke="#1a1a1a" stroke-width="0.8"/>
<line x1="190.20" y1="270.70" x2="190.20" y2="274.60" stroke="#1a1a1a" stroke-width="1.0"/>
<line x1="217.05" y1="270.70" x2="217.05" y2="272.90" stroke="#1a1a1a" stroke-width="0.8"/>
<line x1="232.76" y1="270.70" x2="232.76" y2="272.90" stroke="#1a1a1a" stroke-width="0.8"/>
<line x1="243.90" y1="270.70" x2="243.90" y2="272.90" stroke="#1a1a1a" stroke-width="0.8"/>
<line x1="252.55" y1="270.70" x2="252.55" y2="272.90" stroke="#1a1a1a" stroke-width="0.8"/>
<line x1="259.61" y1="270.70" x2="259.61" y2="272.90" stroke="#1a1a1a" stroke-width="0.8"/>
<line x1="265.58" y1="270.70" x2="265.58" y2="272.90" stroke="#1a1a1a" stroke-width="0.8"/>
<line x1="270.76" y1="270.70" x2="270.76" y2="272.90" stroke="#1a1a1a" stroke-width="0.8"/>
<line x1="275.32" y1="270.70" x2="275.32" y2="272.90" stroke="#1a1a1a" stroke-width="0.8"/>
<line x1="279.40" y1="270.70" x2="279.40" y2="274.60" stroke="#1a1a1a" stroke-width="1.0"/>
<line x1="306.25" y1="270.70" x2="306.25" y2="272.90" stroke="#1a1a1a" stroke-width="0.8"/>
<line x1="321.96" y1="270.70" x2="321.96" y2="272.90" stroke="#1a1a1a" stroke-width="0.8"/>
<line x1="333.10" y1="270.70" x2="333.10" y2="272.90" stroke="#1a1a1a" stroke-width="0.8"/>
<line x1="341.75" y1="270.70" x2="341.75" y2="272.90" stroke="#1a1a1a" stroke-width="0.8"/>
<line x1="348.81" y1="270.70" x2="348.81" y2="272.90" stroke="#1a1a1a" stroke-width="0.8"/>
<line x1="354.78" y1="270.70" x2="354.78" y2="272.90" stroke="#1a1a1a" stroke-width="0.8"/>
<line x1="359.96" y1="270.70" x2="359.96" y2="272.90" stroke="#1a1a1a" stroke-width="0.8"/>
<line x1="364.52" y1="270.70" x2="364.52" y2="272.90" stroke="#1a1a1a" stroke-width="0.8"/>
<line x1="368.60" y1="270.70" x2="368.60" y2="274.60" stroke="#1a1a1a" stroke-width="1.0"/>
<line x1="395.45" y1="270.70" x2="395.45" y2="272.90" stroke="#1a1a1a" stroke-width="0.8"/>
<line x1="411.16" y1="270.70" x2="411.16" y2="272.90" stroke="#1a1a1a" stroke-width="0.8"/>
<line x1="422.30" y1="270.70" x2="422.30" y2="272.90" stroke="#1a1a1a" stroke-width="0.8"/>
<line x1="430.95" y1="270.70" x2="430.95" y2="272.90" stroke="#1a1a1a" stroke-width="0.8"/>
<line x1="438.01" y1="270.70" x2="438.01" y2="272.90" stroke="#1a1a1a" stroke-width="0.8"/>
<line x1="443.98" y1="270.70" x2="443.98" y2="272.90" stroke="#1a1a1a" stroke-width="0.8"/>
<line x1="449.16" y1="270.70" x2="449.16" y2="272.90" stroke="#1a1a1a" stroke-width="0.8"/>
<text x="32.70" y="273.72" font-family="Liberation Serif, serif" font-weight="bold" font-size="8.6" text-anchor="end" fill="#000"><tspan letter-spacing="-0.35">10</tspan><tspan dy="-3.5" dx="0.3" font-size="7.2">−9</tspan></text>
<text x="32.70" y="245.48" font-family="Liberation Serif, serif" font-weight="bold" font-size="8.6" text-anchor="end" fill="#000"><tspan letter-spacing="-0.35">10</tspan><tspan dy="-3.5" dx="0.3" font-size="7.2">−8</tspan></text>
<text x="32.70" y="217.24" font-family="Liberation Serif, serif" font-weight="bold" font-size="8.6" text-anchor="end" fill="#000"><tspan letter-spacing="-0.35">10</tspan><tspan dy="-3.5" dx="0.3" font-size="7.2">−7</tspan></text>
<text x="32.70" y="189.01" font-family="Liberation Serif, serif" font-weight="bold" font-size="8.6" text-anchor="end" fill="#000"><tspan letter-spacing="-0.35">10</tspan><tspan dy="-3.5" dx="0.3" font-size="7.2">−6</tspan></text>
<text x="32.70" y="160.78" font-family="Liberation Serif, serif" font-weight="bold" font-size="8.6" text-anchor="end" fill="#000"><tspan letter-spacing="-0.35">10</tspan><tspan dy="-3.5" dx="0.3" font-size="7.2">−5</tspan></text>
<text x="32.70" y="132.54" font-family="Liberation Serif, serif" font-weight="bold" font-size="8.6" text-anchor="end" fill="#000"><tspan letter-spacing="-0.35">10</tspan><tspan dy="-3.5" dx="0.3" font-size="7.2">−4</tspan></text>
<text x="32.70" y="104.31" font-family="Liberation Serif, serif" font-weight="bold" font-size="8.6" text-anchor="end" fill="#000"><tspan letter-spacing="-0.35">10</tspan><tspan dy="-3.5" dx="0.3" font-size="7.2">−3</tspan></text>
<text x="32.70" y="76.07" font-family="Liberation Serif, serif" font-weight="bold" font-size="8.6" text-anchor="end" fill="#000"><tspan letter-spacing="-0.35">10</tspan><tspan dy="-3.5" dx="0.3" font-size="7.2">−2</tspan></text>
<text x="32.70" y="47.84" font-family="Liberation Serif, serif" font-weight="bold" font-size="8.6" text-anchor="end" fill="#000"><tspan letter-spacing="-0.35">10</tspan><tspan dy="-3.5" dx="0.3" font-size="7.2">−1</tspan></text>
<text x="32.70" y="19.60" font-family="Liberation Serif, serif" font-weight="bold" font-size="8.6" text-anchor="end" fill="#000"><tspan letter-spacing="-0.35">10</tspan><tspan dy="-3.5" dx="0.3" font-size="7.2">0</tspan></text>
<text x="100.90" y="282.90" font-family="Liberation Serif, serif" font-weight="bold" font-size="8.6" text-anchor="middle" fill="#000"><tspan letter-spacing="-0.35">10</tspan><tspan dy="-3.5" dx="0.3" font-size="7.2">−2</tspan></text>
<text x="190.10" y="282.90" font-family="Liberation Serif, serif" font-weight="bold" font-size="8.6" text-anchor="middle" fill="#000"><tspan letter-spacing="-0.35">10</tspan><tspan dy="-3.5" dx="0.3" font-size="7.2">−1</tspan></text>
<text x="279.30" y="282.90" font-family="Liberation Serif, serif" font-weight="bold" font-size="8.6" text-anchor="middle" fill="#000"><tspan letter-spacing="-0.35">10</tspan><tspan dy="-3.5" dx="0.3" font-size="7.2">0</tspan></text>
<text x="368.50" y="282.90" font-family="Liberation Serif, serif" font-weight="bold" font-size="8.6" text-anchor="middle" fill="#000"><tspan letter-spacing="-0.35">10</tspan><tspan dy="-3.5" dx="0.3" font-size="7.2">1</tspan></text>
<text x="219.4" y="297.0" font-family="Liberation Serif, serif" font-size="12" fill="#000"><tspan font-style="italic" font-weight="bold">M</tspan><tspan font-style="italic" font-weight="bold" font-size="8" dy="2.0" dx="-0.4">X</tspan></text>
<text x="241.3" y="297.0" font-family="Liberation Serif, serif" font-size="11.6" fill="#000" stroke="#000" stroke-width="0.15">[GeV]</text>
<text transform="translate(10.4,149.0) rotate(-90)" font-family="Liberation Serif, serif" font-size="11.5" font-style="italic" font-weight="bold" fill="#111">g<tspan font-size="8" dy="1.8">X</tspan></text>
<text x="92.30" y="73.00" font-family="Liberation Sans, sans-serif" font-size="6.9" font-weight="normal" text-anchor="start" fill="#000" fill-opacity="0.88"><tspan font-style="italic">π</tspan><tspan font-size="4.6" dy="-2.8">0</tspan></text>
<path d="M98.80,71.00 L104.60,71.00 M102.70,69.50 L104.60,71.00 L102.70,72.50" fill="none" stroke="#0a0a0a" stroke-width="0.7" stroke-opacity="0.9"/>
<text x="105.00" y="73.00" font-family="Liberation Sans, sans-serif" font-size="6.9" font-weight="normal" text-anchor="start" fill="#000" fill-opacity="0.88"><tspan font-style="italic">γ</tspan><tspan dx="0.3">X</tspan></text>
<text x="55.00" y="111.20" font-family="Liberation Sans, sans-serif" font-size="6.9" font-weight="normal" text-anchor="middle" fill="#000" fill-opacity="0.88">n−Pb</text>
<text x="107.00" y="110.40" font-family="Liberation Sans, sans-serif" font-size="6.9" font-weight="normal" text-anchor="middle" fill="#000" fill-opacity="0.88">(g−2)<tspan font-size="4.8" dy="1.5" font-style="italic">μ</tspan><tspan dy="-1.5" font-size="1"> </tspan> 5<tspan font-style="italic">σ</tspan></text>
<text x="167.30" y="107.90" font-family="Liberation Sans, sans-serif" font-size="6.9" font-weight="normal" text-anchor="middle" fill="#000" fill-opacity="0.88">NA62</text>
<text x="108.50" y="125.00" font-family="Liberation Sans, sans-serif" font-size="6.9" font-weight="normal" text-anchor="middle" fill="#000" fill-opacity="0.88">(g−2)<tspan font-size="4.8" dy="1.5" font-style="italic">μ</tspan><tspan dy="-1.5" font-size="1"> </tspan> ± 2<tspan font-style="italic">σ</tspan></text>
<text x="79.20" y="136.80" font-family="Liberation Sans, sans-serif" font-size="6.9" font-weight="normal" text-anchor="middle" fill="#000" fill-opacity="0.88">COHERENT LA<tspan font-style="italic">r</tspan></text>
<text x="122.00" y="156.00" font-family="Liberation Sans, sans-serif" font-size="6.9" font-weight="normal" text-anchor="middle" fill="#000" fill-opacity="0.88">NSI</text>
<text x="79.60" y="212.60" font-family="Liberation Sans, sans-serif" font-size="7.3" font-weight="normal" text-anchor="middle" fill="#000" fill-opacity="0.88">ΔN<tspan font-size="4.9" dy="1.3">eff</tspan></text>
<text x="259.50" y="30.20" font-family="Liberation Sans, sans-serif" font-size="6.7" font-weight="normal" text-anchor="start" fill="#000" fill-opacity="0.88"><tspan font-style="italic">B</tspan><tspan font-size="4.6" dy="-2.8">+</tspan></text>
<path d="M266.90,28.10 L272.50,28.10 M270.60,26.60 L272.50,28.10 L270.60,29.60" fill="none" stroke="#0a0a0a" stroke-width="0.7" stroke-opacity="0.9"/>
<text x="273.00" y="30.20" font-family="Liberation Sans, sans-serif" font-size="6.7" font-weight="normal" text-anchor="start" fill="#000" fill-opacity="0.88"><tspan font-style="italic">K</tspan><tspan font-size="4.6" dy="-2.8">+</tspan><tspan dy="2.8" dx="1.6" font-style="italic">μμ</tspan></text>
<text x="267.00" y="75.60" font-family="Liberation Sans, sans-serif" font-size="6.9" font-weight="normal" text-anchor="middle" fill="#000" fill-opacity="0.88">BaBar 4<tspan font-style="italic">μ</tspan></text>
<text x="385.00" y="86.20" font-family="Liberation Sans, sans-serif" font-size="6.9" font-weight="normal" text-anchor="middle" fill="#000" fill-opacity="0.88">CMS 4<tspan font-style="italic">μ</tspan></text>
<text x="398.50" y="105.80" font-family="Liberation Sans, sans-serif" font-size="6.9" font-weight="normal" text-anchor="middle" fill="#000" fill-opacity="0.88">LHCb <tspan font-style="italic">μμ</tspan></text>
<text x="233.40" y="225.60" font-family="Liberation Sans, sans-serif" font-size="6.7" font-weight="normal" text-anchor="middle" fill="#000" fill-opacity="0.88">NuCal</text>
<text x="178.50" y="176.20" font-family="Liberation Sans, sans-serif" font-size="8.7" font-weight="bold" text-anchor="middle" fill="#27b5f2" fill-opacity="1">NA64 <tspan font-style="italic">μ</tspan></text>
<text x="284.00" y="198.90" font-family="Liberation Sans, sans-serif" font-size="8.5" font-weight="bold" text-anchor="middle" fill="#f0c23a" fill-opacity="1">FASER 2</text>
<text x="310.00" y="219.20" font-family="Liberation Sans, sans-serif" font-size="8.4" font-weight="bold" text-anchor="middle" fill="#27a527" fill-opacity="1">SHiP</text>
<text y="209" font-family="Liberation Serif, serif" font-size="21.5" font-style="italic" fill="#111"><tspan x="351.2">B</tspan><tspan x="372.0" font-style="normal" font-size="23">−</tspan><tspan x="391.0" font-style="normal">3</tspan><tspan x="401.9">L</tspan><tspan x="415.0" font-size="16" dy="3.4">μ</tspan></text>
</svg>
</body></html>
